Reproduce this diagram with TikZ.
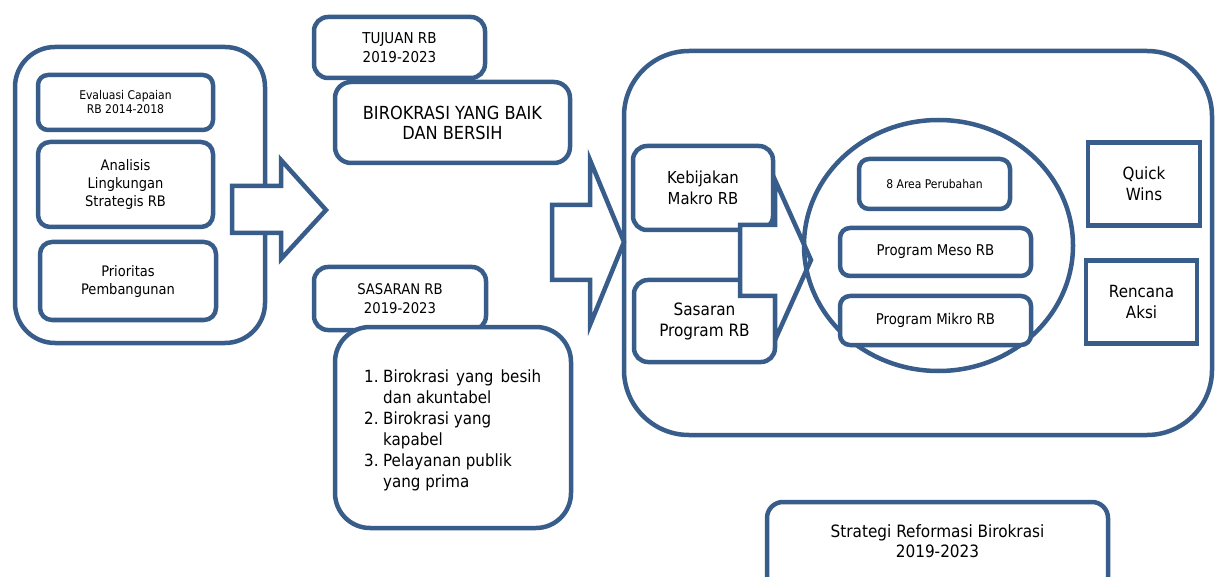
\documentclass[tikz,border=0pt]{standalone}
\usepackage{fontspec}
\setmainfont{DejaVu Sans Condensed}
\usetikzlibrary{shapes.geometric}
\definecolor{bl}{RGB}{56,93,138}
\newcommand\setfs[2]{\fontsize{#1}{#2}\selectfont}
\begin{document}
\begin{tikzpicture}[x=1pt,y=-1pt,
  box/.style={draw=bl, line width=4.5pt, fill=white, rounded corners=#1, align=center, inner sep=0pt, text=black},
  box/.default=12pt,
  sqbox/.style={draw=bl, line width=4.5pt, fill=white, align=center, inner sep=0pt, text=black},
  blockarrow/.style={draw=bl, line width=4.5pt, fill=white, line join=miter},
  ring/.style={draw=bl, line width=4.5pt, ellipse, inner sep=0pt}
]
\useasboundingbox (0,0) rectangle (1218,577);

% left group
\node[box=40pt, minimum width=250pt, minimum height=296pt] (left) at (140,195) {};
\node[box=10pt, minimum width=175pt, minimum height=55pt, font=\setfs{12}{14}] (eval) at (125.5,102.5) {Evaluasi Capaian\\RB 2014-2018};
\node[box=12pt, minimum width=175pt, minimum height=85pt, font=\setfs{14.5}{18}] (anal) at (125.5,184.5) {Analisis\\Lingkungan\\Strategis RB};
\node[box=12pt, minimum width=176pt, minimum height=78pt, font=\setfs{14.5}{18}] (prio) at (128,281) {Prioritas\\Pembangunan};

\draw[blockarrow] (232,186) -- (281,186) -- (281,160) -- (326,210) -- (281,259) -- (281,233) -- (232,233) -- cycle;

% middle column
\node[box=14pt, minimum width=171pt, minimum height=61pt, font=\setfs{15}{19}] (tujuan) at (399.5,47.5) {TUJUAN RB\\2019-2023};
\node[box=16pt, minimum width=235pt, minimum height=81pt, font=\setfs{18}{20}] (baik) at (452.5,122.5) {BIROKRASI YANG BAIK\\DAN BERSIH};
\node[box=14pt, minimum width=172pt, minimum height=63pt, font=\setfs{14.7}{19}] (sasaran) at (400,298.5) {SASARAN RB\\2019-2023};
\node[box=35pt, minimum width=236pt, minimum height=201pt] (listbox) at (453,427.5) {};
\node[anchor=west, inner sep=0pt, align=left, font=\setfs{16.8}{21}] (list) at (364,430) {%
\makebox[19pt][l]{1.}\makebox[158pt][s]{Birokrasi yang besih}\\
\hspace*{19pt}dan akuntabel\\
\makebox[19pt][l]{2.}Birokrasi yang\\
\hspace*{19pt}kapabel\\
\makebox[19pt][l]{3.}Pelayanan publik\\
\hspace*{19pt}yang prima};

% right group
\node[box=65pt, minimum width=588pt, minimum height=384pt] (right) at (918,243) {};
\draw[blockarrow] (552,205) -- (590,205) -- (590,160) -- (624,242) -- (590,325) -- (590,280) -- (552,280) -- cycle;

\node[box=14pt, minimum width=140pt, minimum height=84pt, font=\setfs{16.5}{21}] (makro) at (703,188) {Kebijakan\\Makro RB};
\node[box=14pt, minimum width=141pt, minimum height=82pt, font=\setfs{17}{21}] (sprog) at (704.5,321) {Sasaran\\Program RB};
\draw[blockarrow] (740,225) -- (775,225) -- (775,180) -- (811,260) -- (775,340) -- (775,296) -- (740,296) -- cycle;

\node[ring, minimum width=269pt, minimum height=251pt] (circ) at (938.5,245.5) {};
\node[box=10pt, minimum width=151pt, minimum height=50pt, font=\setfs{12}{14}] (area) at (934.5,184) {8 Area Perubahan};
\node[box=10pt, minimum width=191pt, minimum height=48pt, font=\setfs{14.8}{17}] (meso) at (935.5,252) {Program Meso RB};
\node[box=10pt, minimum width=191pt, minimum height=49pt, font=\setfs{14.8}{17}] (mikro) at (935.5,320.5) {Program Mikro RB};

\node[sqbox, minimum width=112pt, minimum height=83pt, font=\setfs{16.8}{21}] (quick) at (1144,184) {Quick\\Wins};
\node[sqbox, minimum width=111pt, minimum height=83pt, font=\setfs{16.8}{21}] (aksi) at (1141.5,302) {Rencana\\Aksi};

% bottom caption box
\node[box=16pt, minimum width=341pt, minimum height=94pt] (strat) at (937.5,549) {};
\node[inner sep=0pt, align=center, font=\setfs{17}{20}] (strattext) at (937.5,541) {Strategi Reformasi Birokrasi\\2019-2023};
\end{tikzpicture}
\end{document}
